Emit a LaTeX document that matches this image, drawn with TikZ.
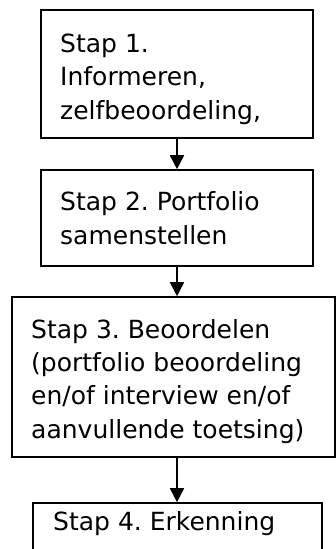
\documentclass[tikz,border=0pt]{standalone}
\usepackage{fontspec}
\setmainfont{DejaVu Sans}
\usetikzlibrary{arrows.meta}
\frenchspacing
\begin{document}
\begin{tikzpicture}[x=1pt,y=-1pt,
  stepbox/.style={draw=black,line width=1.6pt,inner sep=0pt,minimum width=#1},
  steptext/.style={anchor=base west,inner sep=0pt,align=left,font=\fontsize{25}{33.3}\selectfont},
  flow/.style={line width=1.6pt,-{Triangle[width=14pt,length=14pt]}}]
\useasboundingbox (0,0) rectangle (336,549);
\clip (0,0) rectangle (336,549);
\node[stepbox=272pt,minimum height=128pt] (b1) at (177,74) {};
\node[stepbox=272pt,minimum height=96pt] (b2) at (177,218) {};
\node[stepbox=323pt,minimum height=160pt] (b3) at (173.5,377) {};
\node[stepbox=289pt,minimum height=50pt] (b4) at (177.5,528) {};
\node[steptext] (t1) at (60,119) {Stap 1.\\Informeren,\\zelfbeoordeling,};
\node[steptext] (t2) at (60,244) {Stap 2. Portfolio\\samenstellen};
\node[steptext] (t3) at (31,438) {Stap 3. Beoordelen\\(portfolio beoordeling\\en/of interview en/of\\aanvullende toetsing)};
\node[steptext] (t4) at (53,530) {Stap 4. Erkenning};
\draw[flow] (b1.south -| 177,0) -- (b2.north -| 177,0);
\draw[flow] (b2.south) -- (b3.north -| b2.south);
\draw[flow] (b3.south -| b2.south) -- (b4.north -| b2.south);
\end{tikzpicture}
\end{document}
